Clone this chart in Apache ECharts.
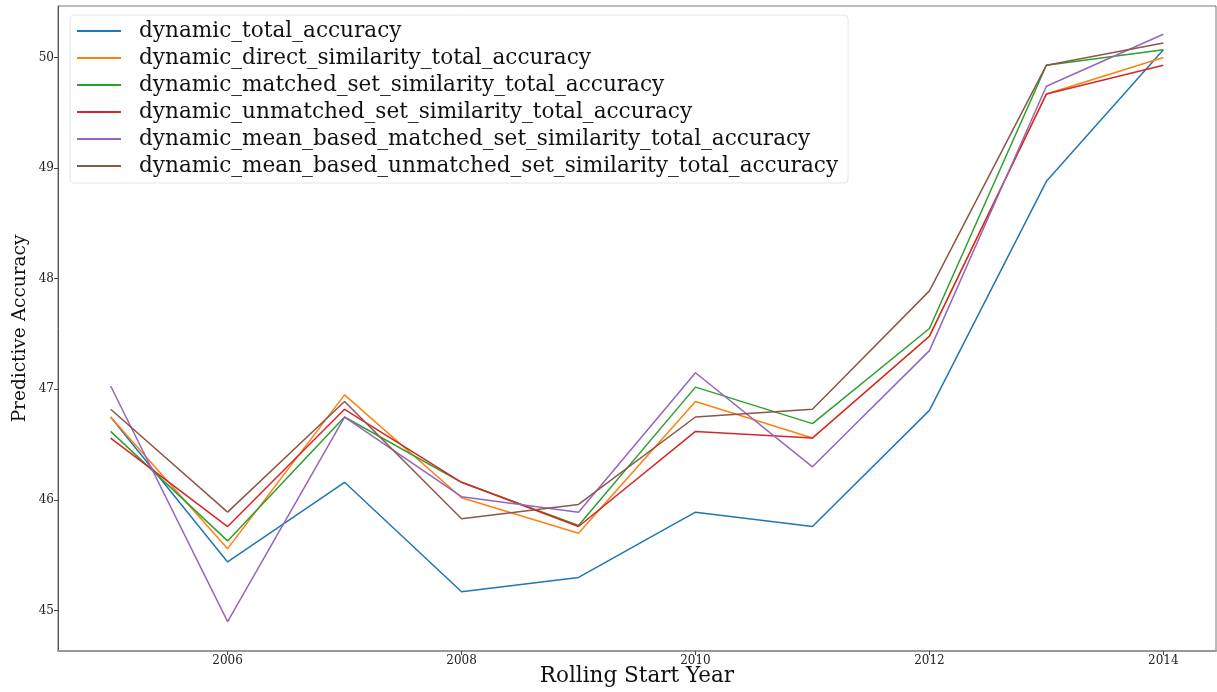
<!DOCTYPE html>
<html>
<head>
<meta charset="utf-8">
<script src="https://cdn.jsdelivr.net/npm/echarts@6/dist/echarts.min.js"></script>
<style>
  html, body { margin: 0; padding: 0; background: #fff; }
  #chart { width: 1217px; height: 692px; }
</style>
</head>
<body>
<div id="chart"></div>
<script>
// Rolling start years
const years = [2005, 2006, 2007, 2008, 2009, 2010, 2011, 2012, 2013, 2014];

// Predictive accuracy per rolling window
const dynamicTotal          = [46.75, 45.44, 46.16, 45.17, 45.30, 45.89, 45.76, 46.81, 48.88, 50.07];
const directSimilarity      = [46.75, 45.56, 46.95, 46.02, 45.70, 46.89, 46.56, 47.48, 49.67, 50.00];
const matchedSet            = [46.62, 45.63, 46.75, 46.16, 45.77, 47.02, 46.69, 47.55, 49.93, 50.07];
const unmatchedSet          = [46.56, 45.76, 46.82, 46.16, 45.76, 46.62, 46.56, 47.48, 49.67, 49.93];
const meanMatchedSet        = [47.03, 44.90, 46.75, 46.03, 45.89, 47.15, 46.30, 47.35, 49.74, 50.21];
const meanUnmatchedSet      = [46.82, 45.89, 46.89, 45.83, 45.96, 46.75, 46.82, 47.89, 49.93, 50.13];

const seriesNames = [
  'dynamic_total_accuracy',
  'dynamic_direct_similarity_total_accuracy',
  'dynamic_matched_set_similarity_total_accuracy',
  'dynamic_unmatched_set_similarity_total_accuracy',
  'dynamic_mean_based_matched_set_similarity_total_accuracy',
  'dynamic_mean_based_unmatched_set_similarity_total_accuracy'
];
const seriesValues = [dynamicTotal, directSimilarity, matchedSet, unmatchedSet, meanMatchedSet, meanUnmatchedSet];

// Tick labels
const xTicks = [2006, 2008, 2010, 2012, 2014];
const yTicks = [45, 46, 47, 48, 49, 50];

const colors = ['#1f77b4', '#ff7f0e', '#2ca02c', '#d62728', '#9467bd', '#8c564b'];
const serif = 'DejaVu Serif';

const chart = echarts.init(document.getElementById('chart'), null, { renderer: 'canvas' });

chart.setOption({
  animation: false,
  color: colors,
  grid: {
    left: 58, right: 1, top: 6, bottom: 41,
    outerBoundsMode: 'none',
    containLabel: false,
    show: true, borderColor: '#777', borderWidth: 1
  },
  legend: {
    orient: 'vertical',
    left: 70, top: 15,
    padding: [5, 10, 6, 7],
    itemWidth: 44, itemHeight: 2, itemGap: 5,
    icon: 'rect',
    backgroundColor: 'rgba(255,255,255,0.8)',
    borderColor: '#e6e6e6', borderWidth: 1, borderRadius: 4,
    textStyle: { fontFamily: serif, fontSize: 21.6, color: '#111', padding: [0, 0, 0, 13], lineHeight: 20 },
    data: seriesNames
  },
  xAxis: {
    type: 'value',
    min: 2004.55, max: 2014.45,
    name: 'Rolling Start Year',
    nameLocation: 'middle', nameGap: 14,
    nameMoveOverlap: false,
    nameTextStyle: { fontFamily: serif, fontSize: 21.5, color: '#111' },
    axisLine: { show: true, lineStyle: { color: '#999', width: 2 } },
    axisTick: { show: true, length: 4, customValues: xTicks, lineStyle: { color: '#444' } },
    axisLabel: {
      customValues: xTicks, fontFamily: serif, fontSize: 12, color: '#222', margin: 4,
      formatter: v => String(v)
    },
    splitLine: { show: false }
  },
  yAxis: {
    type: 'value',
    min: 44.635, max: 50.465,
    name: 'Predictive Accuracy',
    nameLocation: 'middle', nameGap: 28,
    nameMoveOverlap: false,
    nameTextStyle: { fontFamily: serif, fontSize: 18.5, color: '#111' },
    axisLine: { show: true, lineStyle: { color: '#555', width: 1 } },
    axisTick: { show: true, length: 4, customValues: yTicks, lineStyle: { color: '#444' } },
    axisLabel: {
      customValues: yTicks, fontFamily: serif, fontSize: 12, color: '#222', margin: 4,
      formatter: v => String(v)
    },
    splitLine: { show: false }
  },
  series: seriesNames.map((name, i) => ({
    name: name,
    type: 'line',
    data: years.map((yr, j) => [yr, seriesValues[i][j]]),
    symbol: 'none',
    lineStyle: { width: 1.5, color: colors[i] },
    itemStyle: { color: colors[i] }
  }))
});
</script>
</body>
</html>
